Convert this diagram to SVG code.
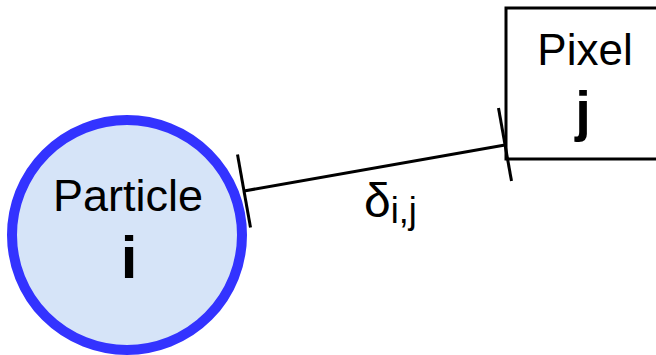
<svg xmlns="http://www.w3.org/2000/svg" width="656" height="355" viewBox="0 0 656 355">
<style>
.t{font-family:"Liberation Sans",Arial,sans-serif;fill:#000;text-anchor:middle}
.b{font-weight:bold}
.ln{stroke:#000;stroke-width:3;fill:none}
</style>
<rect width="656" height="355" fill="#fff"/>
<g id="particle">
<circle cx="127" cy="235" r="115" fill="#d6e4f8" stroke="#3333ff" stroke-width="10"/>
<text class="t" x="128" y="211" font-size="45">Particle</text>
<text class="t b" x="129" y="278" font-size="60">i</text>
</g>
<g id="pixel">
<rect x="506" y="8" width="170" height="151" fill="#fff" stroke="#000" stroke-width="3"/>
<text class="t" x="585" y="65" font-size="44">Pixel</text>
<text class="t b" x="583" y="130" font-size="56">j</text>
</g>
<g id="connectors">
<line class="ln" x1="244" y1="191" x2="505" y2="145"/>
<line class="ln" x1="237.5" y1="154.6" x2="250.5" y2="227.4"/>
<line class="ln" x1="498.5" y1="108" x2="511.5" y2="181"/>
<text class="t" x="364" y="217" font-size="48" style="text-anchor:start">δ<tspan font-size="36" dy="6">i,j</tspan></text>
</g>
</svg>
